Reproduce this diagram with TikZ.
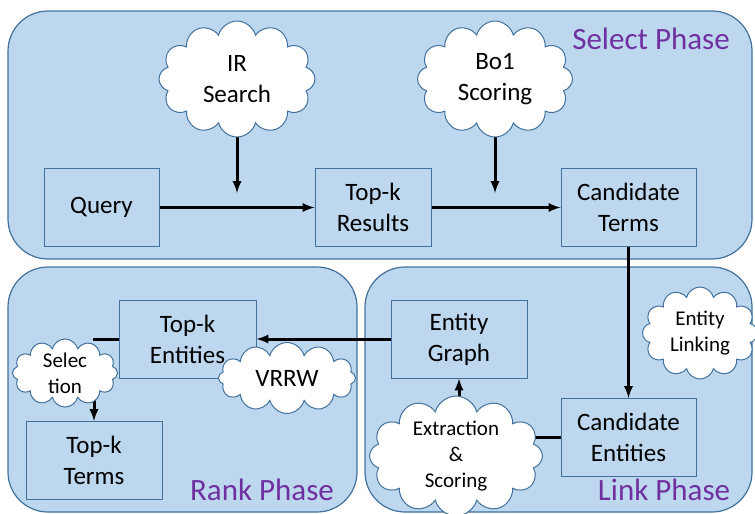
\documentclass[tikz,border=0pt]{standalone}
\usepackage{fontspec}
\setmainfont{Carlito}
\usepackage{tikz}
\usetikzlibrary{positioning,shapes,shapes.symbols,arrows,calc,backgrounds}
\usepackage{xcolor}
\definecolor{phasefill}{RGB}{189, 215, 238}
\definecolor{phaseline}{RGB}{65, 113, 156}
\definecolor{phasepurple}{RGB}{112, 48, 160}

\tikzset{
    phase/.style={draw=phaseline, line width=1.2pt, fill=phasefill, rounded corners=40pt},
    phaselabel/.style={text=phasepurple, font=\fontsize{31}{36}\selectfont},
    stepbox/.style={draw=phaseline, line width=1pt, align=center, minimum height=78pt, inner sep=0pt, font=\fontsize{25}{31}\selectfont},
    puff/.style={cloud, cloud puffs=12, cloud ignores aspect, draw=phaseline, line width=1pt, fill=white, align=center, inner sep=0pt},
    bigpuff/.style={puff, font=\fontsize{25}{31}\selectfont},
    smallpuff/.style={puff, font=\fontsize{21}{26}\selectfont},
    flow/.style={line width=3pt, black, -latex},
    link/.style={line width=3pt, black}
}

\begin{document}
\begin{tikzpicture}[x=1pt, y=-1pt]
        \useasboundingbox (0,0) rectangle (755,514);

        % Phases
        \begin{scope}[on background layer]
        \draw[phase] (8,11) rectangle (752,259);
        \draw[phase] (8,267) rectangle (357,512);
        \draw[phase] (365,267) rectangle (752,512);
        \end{scope}
        \node[phaselabel] (selectlbl) at (651,39) {Select Phase};
        \node[phaselabel] (ranklbl) at (262,490) {Rank Phase};
        \node[phaselabel] (linklbl) at (664,490) {Link Phase};

        % Select phase
        \node[stepbox, minimum width=115pt] (query) at (101.5,207.5) {Query};
        \node[stepbox, minimum width=116pt] (results) at (373,207.5) {Top-k\\Results};
        \node[stepbox, minimum width=135pt] (cterms) at (628.5,207.5) {Candidate\\Terms};
        \node[bigpuff, minimum width=156pt, minimum height=116pt] (irsearch) at (237,79) {IR\\Search};
        \node[bigpuff, minimum width=155pt, minimum height=116pt] (boscore) at (495,79) {Bo1\\Scoring};
        \coordinate (irend) at (237,193);
        \coordinate (boend) at (495,193);

        % Link phase
        \node[stepbox, minimum width=135pt] (centities) at (628.5,437.5) {Candidate\\Entities};
        \node[stepbox, minimum width=136pt] (egraph) at (459,339) {Entity\\Graph};
        \node[smallpuff, minimum width=115pt, minimum height=92pt] (elinking) at (700,333) {Entity\\Linking};
        \node[smallpuff, minimum width=173pt, minimum height=97pt] (extract) at (456,456) {Extraction\\\&\\Scoring};

        % Rank phase
        \node[stepbox, minimum width=137pt] (tentities) at (187.5,339) {Top-k\\Entities};
        \node[stepbox, minimum width=136pt] (tterms) at (94,460.5) {Top-k\\Terms};
        \node[bigpuff, minimum width=137pt, minimum height=71pt] (vrrw) at (287,378) {VRRW};
        \node[smallpuff, minimum width=105pt, minimum height=67pt] (select) at (65,373) {Selec\\tion};
        \coordinate (selin) at (93,339);

        % Connectors
        \begin{scope}[on background layer]
        \draw[flow] (irsearch.south) -- (irend);
        \draw[flow] (boscore.south) -- (boend);
        \draw[flow] (query) -- (results);
        \draw[flow] (results) -- (cterms);
        \draw[flow] (cterms) -- (centities);
        \draw[link] (centities.west) -- (extract.center |- centities.west);
        \draw[flow] (egraph.south |- extract.center) -- (egraph.south);
        \draw[flow] (egraph) -- (tentities);
        \draw[link] (tentities.west) -- (selin);
        \draw[flow] (tterms.north |- select.center) -- (tterms.north);
        \end{scope}
    \end{tikzpicture}
\end{document}
